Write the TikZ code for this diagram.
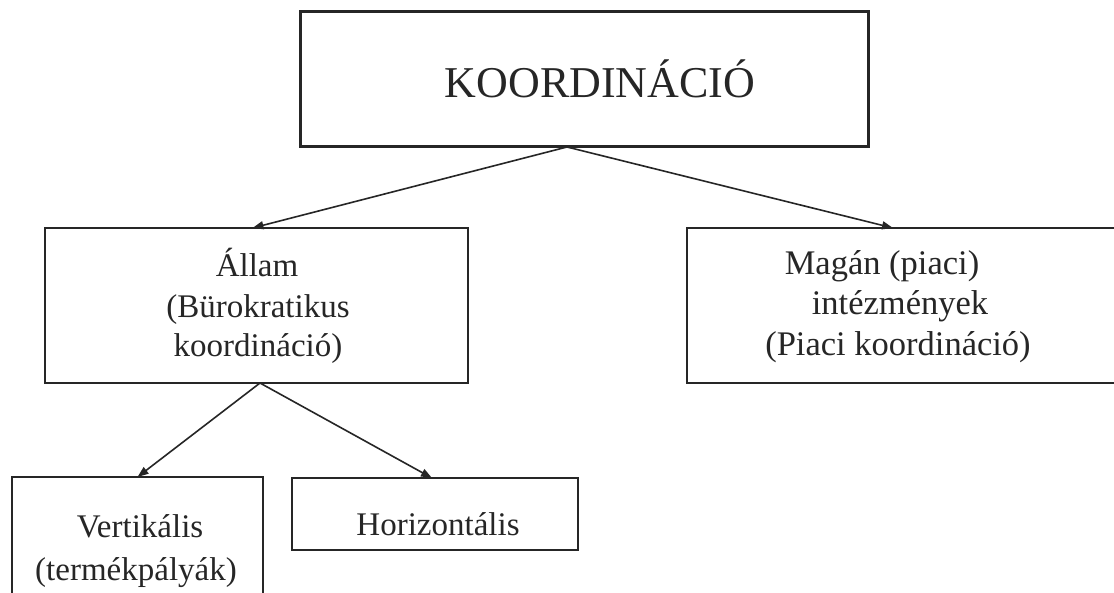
\documentclass[tikz,border=0pt]{standalone}
\usepackage{fontspec}
\setmainfont{Liberation Serif}
\usetikzlibrary{arrows.meta}
\definecolor{ink}{HTML}{262626}
\tikzset{
  box/.style={draw=ink, line width=2pt, rectangle, inner sep=0pt, outer sep=0pt},
  topbox/.style={box, line width=3pt},
  txt/.style={text=ink, inner sep=0pt, anchor=base, font=\fontsize{33}{40}\selectfont},
  widetxt/.style={txt, font=\fontsize{34.5}{40}\selectfont},
  bigtxt/.style={text=ink, inner sep=0pt, anchor=base, font=\fontsize{44}{50}\selectfont},
  arr/.style={draw=ink, line width=1.6pt, -{Triangle[length=11pt,width=8pt]}}
}
\begin{document}
\begin{tikzpicture}[x=1pt,y=-1pt]
\useasboundingbox (0,0) rectangle (1114,593);
\fill[white] (0,0) rectangle (1114,593);
\clip (0,0) rectangle (1114,593);
% boxes
\node[topbox, minimum width=568pt, minimum height=135pt] (top) at (584,79.5) {};
\node[box, minimum width=423pt, minimum height=155pt] (allam) at (256.5,305.5) {};
\node[box, minimum width=440pt, minimum height=155pt] (magan) at (907,305.5) {};
\node[box, minimum width=251pt, minimum height=140pt] (vert) at (137.5,547) {};
\node[box, minimum width=286pt, minimum height=72pt] (horiz) at (435,514) {};
% texts
\node[bigtxt] (tk) at (600,98) {KOORDINÁCIÓ};
\node[txt] (a1) at (257,277) {Állam};
\node[txt] (a2) at (258,318) {(Bürokratikus};
\node[txt] (a3) at (258,357) {koordináció)};
\node[widetxt] (m1) at (882,275) {Magán (piaci)};
\node[widetxt] (m2) at (900,315) {intézmények};
\node[widetxt] (m3) at (898,356) {(Piaci koordináció)};
\node[txt] (v1) at (140,537) {Vertikális};
\node[txt] (v2) at (136,580) {(termékpályák)};
\node[txt] (h1) at (438,535) {Horizontális};
% connectors
\draw[arr] ([xshift=-17pt]top.south) -- ([xshift=-4pt]allam.north);
\draw[arr] ([xshift=-17pt]top.south) -- ([xshift=-14pt]magan.north);
\draw[arr] ([xshift=3.5pt]allam.south) -- (vert.north);
\draw[arr] ([xshift=3.5pt]allam.south) -- ([xshift=-3pt]horiz.north);
\end{tikzpicture}
\end{document}
